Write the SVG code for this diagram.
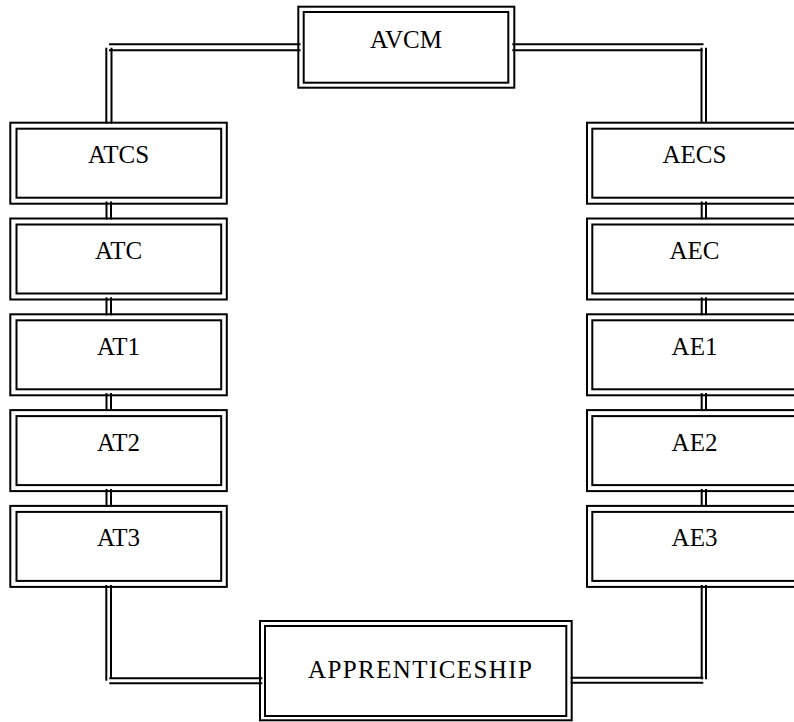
<svg xmlns="http://www.w3.org/2000/svg" width="794" height="722" viewBox="0 0 794 722">
<style>
.b{fill:none;stroke:#000;stroke-width:2}
.c{fill:none;stroke:#000;stroke-width:2}
.t{font-family:"Liberation Serif","Times New Roman",serif;font-size:25px;fill:#000;text-anchor:middle}
</style>
<rect width="794" height="722" fill="#fff"/>
<g id="connectors">
<!-- top-left -->
<line class="c" x1="109" y1="44.3" x2="300.5" y2="44.3"/>
<line class="c" x1="109" y1="50.3" x2="300.5" y2="50.3"/>
<line class="c" x1="106.3" y1="47.7" x2="106.3" y2="123.5"/>
<line class="c" x1="111.5" y1="47.7" x2="111.5" y2="123.5"/>
<!-- top-right -->
<line class="c" x1="512.3" y1="44.3" x2="703.5" y2="44.3"/>
<line class="c" x1="512.3" y1="50.3" x2="702.7" y2="50.3"/>
<line class="c" x1="701.5" y1="47.7" x2="701.5" y2="123.5"/>
<line class="c" x1="706" y1="47.7" x2="706" y2="123.5"/>
<!-- left chain -->
<line class="c" x1="106.5" y1="201.5" x2="106.5" y2="219.5"/>
<line class="c" x1="111" y1="201.5" x2="111" y2="219.5"/>
<line class="c" x1="106.5" y1="297.3" x2="106.5" y2="315.3"/>
<line class="c" x1="111" y1="297.3" x2="111" y2="315.3"/>
<line class="c" x1="106.5" y1="393.1" x2="106.5" y2="411.1"/>
<line class="c" x1="111" y1="393.1" x2="111" y2="411.1"/>
<line class="c" x1="106.5" y1="488.9" x2="106.5" y2="506.9"/>
<line class="c" x1="111" y1="488.9" x2="111" y2="506.9"/>
<!-- right chain -->
<line class="c" x1="701.7" y1="201.5" x2="701.7" y2="219.5"/>
<line class="c" x1="706" y1="201.5" x2="706" y2="219.5"/>
<line class="c" x1="701.7" y1="297.3" x2="701.7" y2="315.3"/>
<line class="c" x1="706" y1="297.3" x2="706" y2="315.3"/>
<line class="c" x1="701.7" y1="393.1" x2="701.7" y2="411.1"/>
<line class="c" x1="706" y1="393.1" x2="706" y2="411.1"/>
<line class="c" x1="701.7" y1="488.9" x2="701.7" y2="506.9"/>
<line class="c" x1="706" y1="488.9" x2="706" y2="506.9"/>
<!-- bottom-left -->
<line class="c" x1="106.3" y1="585" x2="106.3" y2="680.7"/>
<line class="c" x1="111" y1="585" x2="111" y2="678.3"/>
<line class="c" x1="109.3" y1="678.3" x2="262.3" y2="678.3"/>
<line class="c" x1="109.3" y1="683.3" x2="262.3" y2="683.3"/>
<!-- bottom-right -->
<line class="c" x1="701.7" y1="585" x2="701.7" y2="679.3"/>
<line class="c" x1="706" y1="585" x2="706" y2="679.3"/>
<line class="c" x1="570.7" y1="677.7" x2="703.3" y2="677.7"/>
<line class="c" x1="570.7" y1="682.7" x2="703.3" y2="682.7"/>
</g>
<g id="AVCM">
<rect class="b" x="298.3" y="6.7" width="216" height="81"/>
<rect class="b" x="303.7" y="12" width="204.6" height="70.7"/>
<text class="t" x="406" y="48.3">AVCM</text>
</g>
<g id="ATCS">
<rect class="b" x="10.3" y="122.7" width="216.5" height="81"/>
<rect class="b" x="16.5" y="128.7" width="204.7" height="69"/>
<text class="t" x="118.5" y="163.2">ATCS</text>
</g>
<g id="ATC">
<rect class="b" x="10.3" y="218.5" width="216.5" height="81"/>
<rect class="b" x="16.5" y="224.5" width="204.7" height="69"/>
<text class="t" x="118.5" y="259">ATC</text>
</g>
<g id="AT1">
<rect class="b" x="10.3" y="314.3" width="216.5" height="81"/>
<rect class="b" x="16.5" y="320.3" width="204.7" height="69"/>
<text class="t" x="118.5" y="354.8">AT1</text>
</g>
<g id="AT2">
<rect class="b" x="10.3" y="410.1" width="216.5" height="81"/>
<rect class="b" x="16.5" y="416.1" width="204.7" height="69"/>
<text class="t" x="118.5" y="450.6">AT2</text>
</g>
<g id="AT3">
<rect class="b" x="10.3" y="505.9" width="216.5" height="81"/>
<rect class="b" x="16.5" y="511.9" width="204.7" height="69"/>
<text class="t" x="118.5" y="546.4">AT3</text>
</g>
<g id="AECS">
<rect class="b" x="587" y="122.7" width="216.5" height="81"/>
<rect class="b" x="592.3" y="128.7" width="204.7" height="69"/>
<text class="t" x="694.5" y="163.2">AECS</text>
</g>
<g id="AEC">
<rect class="b" x="587" y="218.5" width="216.5" height="81"/>
<rect class="b" x="592.3" y="224.5" width="204.7" height="69"/>
<text class="t" x="694.5" y="259">AEC</text>
</g>
<g id="AE1">
<rect class="b" x="587" y="314.3" width="216.5" height="81"/>
<rect class="b" x="592.3" y="320.3" width="204.7" height="69"/>
<text class="t" x="694.5" y="354.8">AE1</text>
</g>
<g id="AE2">
<rect class="b" x="587" y="410.1" width="216.5" height="81"/>
<rect class="b" x="592.3" y="416.1" width="204.7" height="69"/>
<text class="t" x="694.5" y="450.6">AE2</text>
</g>
<g id="AE3">
<rect class="b" x="587" y="505.9" width="216.5" height="81"/>
<rect class="b" x="592.3" y="511.9" width="204.7" height="69"/>
<text class="t" x="694.5" y="546.4">AE3</text>
</g>
<g id="APPRENTICESHIP">
<rect class="b" x="260" y="621" width="311.7" height="99.3"/>
<rect class="b" x="265" y="626" width="301.3" height="90"/>
<text class="t" x="308" y="678.3" style="text-anchor:start;letter-spacing:1.4px">APPRENTICESHIP</text>
</g>
</svg>
